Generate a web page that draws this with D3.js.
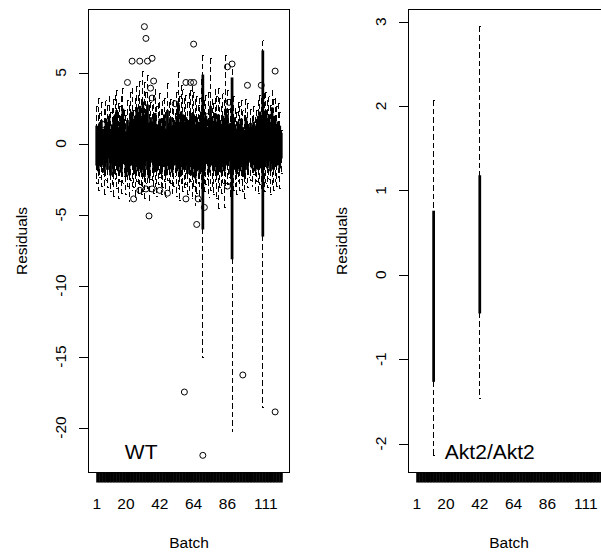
<!DOCTYPE html>
<html><head><meta charset="utf-8">
<script src="https://cdn.jsdelivr.net/npm/d3@7"></script>
<style>
body{margin:0;background:#fff}
svg{display:block}
text{font-family:"Liberation Sans",Arial,sans-serif;fill:#000}
</style>
</head><body>
<svg id="chart" width="601" height="552"></svg>
<script>
// ---------------- data ----------------
const nBatch = 121;
const xTickLabels = [1, 20, 42, 64, 86, 111];
const wtYTicks = [-20, -15, -10, -5, 0, 5];
const aktYTicks = [-2, -1, 0, 1, 2, 3];

// WT: one box per batch 1..121
const wtLo = [
 -2.8,-3.3,-2.4,-3.0,-2.2,-3.6,-2.6,-3.1,-2.0,-3.4,
 -2.9,-3.7,-2.5,-3.2,-3.9,-2.7,-3.5,-2.8,-2.3,-3.6,
 -3.0,-4.1,-2.6,-3.3,-3.1,-3.8,-2.7,-3.5,-2.9,-3.6,
 -3.4,-3.9,-2.8,-3.2,-4.0,-2.5,-2.6,-3.5,-3.0,-3.7,
 -2.9,-2.4,-3.6,-3.1,-2.7,-3.8,-2.6,-3.3,-2.8,-3.5,
 -3.0,-2.3,-3.7,-3.2,-4.0,-2.8,-3.4,-3.1,-2.9,-3.6,
 -3.3,-2.7,-3.9,-3.0,-4.4,-3.5,-2.8,-4.1,-3.2,-15.1,
 -3.4,-2.9,-2.5,-3.8,-3.3,-3.0,-3.6,-2.7,-3.9,-4.6,
 -3.1,-3.5,-2.8,-4.5,-3.2,-2.9,-2.4,-3.7,-20.3,-3.3,
 -3.0,-3.6,-2.7,-3.3,-2.5,-3.4,-3.9,-2.8,-3.1,-2.4,
 -2.6,-3.0,-2.2,-3.3,-2.7,-3.5,-2.9,-3.2,-18.6,-3.4,
 -2.8,-3.1,-2.5,-3.6,-2.9,-3.3,-2.7,-3.0,-2.4,-3.2,-2.1];
const wtQ1 = [
 -1.5,-1.9,-1.2,-1.6,-1.1,-2.0,-1.3,-1.8,-1.0,-2.2,
 -1.4,-2.1,-1.2,-1.5,-1.9,-1.3,-2.0,-1.4,-1.1,-2.3,
 -1.6,-2.2,-1.2,-1.5,-1.8,-2.1,-1.3,-1.9,-1.4,-2.0,
 -1.5,-2.3,-1.2,-1.8,-2.4,-1.3,-1.1,-2.0,-1.6,-1.9,
 -1.5,-1.2,-2.1,-1.6,-1.3,-2.2,-1.2,-1.8,-1.4,-2.0,
 -1.5,-1.1,-1.9,-1.4,-2.3,-1.3,-1.8,-1.6,-1.5,-2.1,
 -1.8,-1.3,-2.2,-1.4,-2.4,-1.9,-1.5,-2.1,-1.6,-6.0,
 -1.9,-1.4,-1.2,-2.0,-1.3,-1.5,-1.9,-1.3,-2.2,-1.8,
 -1.6,-2.0,-1.3,-1.9,-1.4,-1.5,-1.2,-2.1,-8.1,-1.8,
 -1.6,-2.1,-1.4,-1.9,-1.3,-2.0,-2.3,-1.5,-1.8,-1.2,
 -1.3,-1.7,-1.1,-1.9,-1.4,-1.8,-1.5,-1.7,-6.5,-1.5,
 -1.3,-1.7,-1.2,-1.9,-1.4,-1.8,-1.3,-1.5,-1.1,-1.7,-1.0];
const wtMed = [
 -0.2,-0.4,0.1,-0.3,-0.1,-0.5,0.2,-0.2,0.3,-0.6,
 0.0,-0.4,0.4,0.1,-0.3,0.2,-0.2,0.5,0.1,-0.7,
 0.0,-0.5,0.3,0.2,-0.2,-0.4,0.6,0.1,0.4,-0.1,
 0.5,-0.3,0.7,0.2,-0.6,0.3,0.4,0.0,0.2,-0.2,
 -0.1,0.2,-0.4,0.0,0.3,-0.5,0.4,-0.1,0.1,-0.3,
 0.2,0.0,-0.2,0.6,-0.4,0.3,0.1,-0.1,0.2,-0.3,
 0.0,0.4,-0.2,0.3,-0.5,0.1,-0.1,-0.3,0.2,-0.6,
 -0.2,0.3,0.0,-0.4,0.5,0.1,-0.2,0.4,-0.3,0.0,
 0.1,-0.3,0.2,-0.1,0.4,0.1,0.0,-0.4,0.3,0.2,
 -0.1,-0.5,0.0,-0.2,0.3,-0.4,-0.6,0.1,-0.2,0.2,
 0.1,-0.2,0.3,-0.3,0.0,0.2,0.4,0.1,0.5,0.3,
 0.4,0.0,0.3,-0.2,0.5,0.1,0.3,-0.1,0.2,0.0,0.1];
const wtQ3 = [
 1.2,1.1,1.4,1.6,0.6,1.0,1.7,1.2,1.9,0.9,
 1.3,1.8,2.0,2.3,1.1,1.5,1.9,2.4,1.4,0.8,
 1.6,1.2,2.1,2.2,1.3,1.9,2.5,1.8,2.6,1.5,
 2.9,2.0,2.3,2.7,1.4,1.8,1.5,1.9,2.1,1.2,
 1.3,1.7,1.1,1.5,2.0,1.0,2.3,1.4,1.8,1.2,
 1.6,1.2,1.9,2.8,1.3,2.2,2.0,1.5,1.8,1.4,
 1.6,2.1,1.9,2.0,1.3,1.8,1.3,1.5,2.2,4.8,
 1.4,1.9,1.1,1.6,2.6,1.8,1.3,2.1,1.5,2.0,
 1.6,1.2,1.9,1.5,2.4,2.0,1.3,1.4,4.6,1.8,
 1.3,1.0,1.5,1.2,1.7,1.1,0.9,1.8,1.3,1.1,
 1.4,1.1,1.5,1.0,1.3,1.9,2.2,1.8,6.5,2.1,
 2.3,1.6,2.0,1.4,2.5,1.8,1.9,1.3,1.5,1.2,0.7];
const wtHi = [
 2.6,3.2,2.1,2.9,1.0,2.4,3.0,2.7,3.3,2.2,
 2.5,3.1,3.4,3.7,2.8,2.6,3.3,3.9,2.3,2.0,
 3.0,2.7,3.6,3.9,2.3,3.2,4.0,3.4,4.4,3.1,
 5.1,4.3,3.6,4.8,3.3,2.9,2.7,3.4,3.8,2.6,
 2.8,3.5,2.4,3.0,3.2,2.2,4.2,2.9,3.1,2.5,
 3.0,2.1,3.6,5.0,3.3,4.1,3.8,3.2,3.4,2.9,
 3.5,3.7,4.0,3.6,3.1,3.3,2.7,3.2,4.5,6.2,
 3.0,3.4,1.6,3.6,6.0,3.1,2.8,3.8,3.3,3.9,
 3.2,2.6,3.5,3.0,6.2,3.7,2.4,3.1,5.2,3.3,
 2.5,2.2,2.9,2.6,3.0,2.3,2.0,3.1,2.8,1.4,
 2.4,1.9,2.6,1.8,2.3,3.0,3.4,3.2,7.25,3.5,
 3.6,3.0,3.3,2.7,3.7,3.1,3.2,2.6,2.8,2.2,0.9];
const wtOutBatch = [5,21,24,25,29,29,32,33,33,34,35,36,37,37,37,38,42,47,52,58,59,59,62,64,64,66,67,70,71,73,86,86,87,89,96,99,108,117,117];
const wtOutVal   = [1.34,4.3,5.8,-3.9,5.8,-3.3,8.23,7.4,-3.2,5.8,-5.1,3.9,6.0,3.2,-3.2,4.4,-3.3,-3.5,2.8,-17.5,4.3,-3.9,4.3,7.0,4.3,-5.7,-3.9,-21.96,-4.5,1.9,5.4,-3.0,2.9,5.6,-16.3,4.1,4.1,5.1,-18.9];

// Akt2/Akt2: only two batches carry data
const aktBatch = [12, 42];
const aktLo  = [-2.14, -1.47];
const aktQ1  = [-1.26, -0.45];
const aktMed = [-0.30, 0.35];
const aktQ3  = [0.75, 1.17];
const aktHi  = [2.07, 2.94];
const aktOutBatch = [];
const aktOutVal = [];

// ---------------- drawing ----------------
const svg = d3.select("#chart");

function drawPanel(o) {
  const g = svg.append("g");
  const ext = 0.04 * nBatch;
  const x = d3.scaleLinear().domain([0.5 - ext, nBatch + 0.5 + ext]).range([o.L, o.R]);
  const all = o.lo.concat(o.hi, o.outVal);
  const mn = d3.min(all), mx = d3.max(all), pad = 0.04 * (mx - mn);
  const y = d3.scaleLinear().domain([mn - pad, mx + pad]).range([o.B, o.T]);
  const u = x(2) - x(1);
  const bw = 0.4 * u, sw = 0.2 * u;

  const boxes = o.batch.map((b, i) => ({b, lo:o.lo[i], q1:o.q1[i], med:o.med[i], q3:o.q3[i], hi:o.hi[i]}));
  const dash = "5.5,3";
  // whiskers
  g.selectAll(".wu").data(boxes).join("line")
    .attr("x1", d => x(d.b)).attr("x2", d => x(d.b))
    .attr("y1", d => y(d.hi)).attr("y2", d => y(d.q3))
    .attr("stroke", "#000").attr("stroke-width", 1).attr("stroke-dasharray", dash)
    .attr("shape-rendering", "crispEdges");
  g.selectAll(".wl").data(boxes).join("line")
    .attr("x1", d => x(d.b)).attr("x2", d => x(d.b))
    .attr("y1", d => y(d.q1)).attr("y2", d => y(d.lo))
    .attr("stroke", "#000").attr("stroke-width", 1).attr("stroke-dasharray", dash)
    .attr("shape-rendering", "crispEdges");
  // staples
  ["hi","lo"].forEach(k => {
    g.selectAll(".st" + k).data(boxes).join("line")
      .attr("x1", d => x(d.b) - sw).attr("x2", d => x(d.b) + sw + 1)
      .attr("y1", d => y(d[k])).attr("y2", d => y(d[k]))
      .attr("stroke", "#000").attr("stroke-width", 1).attr("shape-rendering", "crispEdges");
  });
  // boxes
  g.selectAll(".bx").data(boxes).join("rect")
    .attr("x", d => x(d.b) - bw).attr("width", 2 * bw)
    .attr("y", d => y(d.q3)).attr("height", d => y(d.q1) - y(d.q3))
    .attr("fill", "#000").attr("stroke", "#000").attr("stroke-width", 1.5);
  // medians
  g.selectAll(".md").data(boxes).join("line")
    .attr("x1", d => x(d.b) - bw).attr("x2", d => x(d.b) + bw)
    .attr("y1", d => y(d.med)).attr("y2", d => y(d.med))
    .attr("stroke", "#000").attr("stroke-width", 3);
  // outliers
  g.selectAll(".out").data(o.outBatch.map((b, i) => ({b, v:o.outVal[i]}))).join("circle")
    .attr("cx", d => x(d.b)).attr("cy", d => y(d.v)).attr("r", 3)
    .attr("fill", "none").attr("stroke", "#000").attr("stroke-width", 1);

  // frame
  g.append("rect").attr("x", o.L).attr("y", o.T).attr("width", o.R - o.L).attr("height", o.B - o.T)
    .attr("fill", "none").attr("stroke", "#000").attr("stroke-width", 1).attr("shape-rendering", "crispEdges");

  // y axis
  const ya = g.append("g").attr("transform", `translate(${o.L},0)`)
    .call(d3.axisLeft(y).tickValues(o.yTicks).tickSize(10).tickFormat(""));
  ya.select(".domain").remove();
  ya.selectAll("line").attr("shape-rendering", "crispEdges");
  g.selectAll(".yl").data(o.yTicks).join("text")
    .attr("transform", d => `translate(${o.L - 23},${y(d)}) rotate(-90)`)
    .attr("text-anchor", "middle").attr("font-size", "15.5px").text(d => d);

  // x axis
  const xa = g.append("g").attr("transform", `translate(0,${o.B})`)
    .call(d3.axisBottom(x).tickValues(d3.range(1, nBatch + 1)).tickSize(10).tickSizeOuter(0).tickFormat(""));
  xa.select(".domain").remove();
  xa.selectAll("line").attr("stroke-width", 2);
  g.selectAll(".xl").data(xTickLabels).join("text")
    .attr("x", d => x(d)).attr("y", o.B + 36)
    .attr("text-anchor", "middle").attr("font-size", "15.5px").text(d => d);

  // axis titles
  g.append("text").attr("x", (o.L + o.R) / 2).attr("y", 548)
    .attr("text-anchor", "middle").attr("font-size", "15.5px").text("Batch");
  g.append("text").attr("transform", `translate(${o.L - 62},${(o.T + o.B) / 2}) rotate(-90)`)
    .attr("text-anchor", "middle").attr("font-size", "15.5px").text("Residuals");

  // group label
  g.append("text").attr("x", x(19.3)).attr("y", y(mn - pad) - 14)
    .attr("font-size", "21px").text(o.label);
}

drawPanel({L: 88.5, R: 289.5, T: 9.5, B: 472.5, label: "WT",
  batch: d3.range(1, nBatch + 1), lo: wtLo, q1: wtQ1, med: wtMed, q3: wtQ3, hi: wtHi,
  outBatch: wtOutBatch, outVal: wtOutVal, yTicks: wtYTicks});
drawPanel({L: 408.5, R: 609.5, T: 9.5, B: 472.5, label: "Akt2/Akt2",
  batch: aktBatch, lo: aktLo, q1: aktQ1, med: aktMed, q3: aktQ3, hi: aktHi,
  outBatch: aktOutBatch, outVal: aktOutVal, yTicks: aktYTicks});
</script>
</body></html>
